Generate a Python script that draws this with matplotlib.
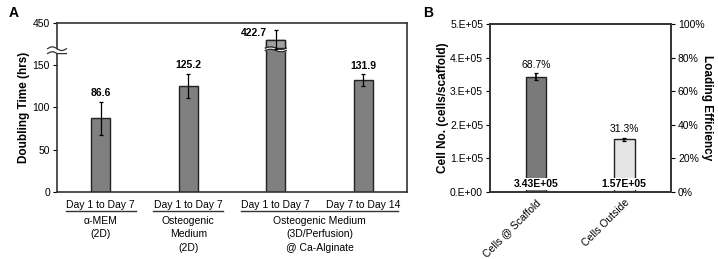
import numpy as np
import matplotlib
matplotlib.use('Agg')
import matplotlib.pyplot as plt
from matplotlib.transforms import blended_transform_factory
from matplotlib.ticker import FuncFormatter

plt.rcParams['font.family'] = ['Liberation Sans', 'DejaVu Sans']
plt.rcParams['font.size'] = 7.5

# panel A data
periods = ['Day 1 to Day 7', 'Day 1 to Day 7', 'Day 1 to Day 7', 'Day 7 to Day 14']
doubling = [86.6, 125.2, 422.7, 131.9]
doubling_err = [19.5, 14.0, 15.5, 6.5]
groups = ['α-MEM\n(2D)', 'Osteogenic\nMedium\n(2D)',
          'Osteogenic Medium\n(3D/Perfusion)\n@ Ca-Alginate']
group_members = [[0], [1], [2, 3]]
yticks_a = [0, 50, 100, 150, 450]

# panel B data
cell_cats = ['Cells @ Scaffold', 'Cells Outside']
cell_no = [3.43e5, 1.57e5]
cell_err = [1.0e4, 5.0e3]
efficiency = [68.7, 31.3]

# broken y axis for panel A (150 -> 400 squeezed)
knots_v = [-1000, 0, 160, 400, 450, 2000]
knots_e = [-1000, 0, 160, 163, 199, 199 + 1550 * 0.72]
def fwd(v):
    return np.interp(v, knots_v, knots_e)
def inv(e):
    return np.interp(e, knots_e, knots_v)

edge = '#222222'
spine_c = '#333333'

fig = plt.figure(figsize=(7.18, 2.59), dpi=100)
ax = fig.add_axes([0.0794, 0.2587, 0.4875, 0.6525])
axb = fig.add_axes([0.6825, 0.2587, 0.2521, 0.6486])

# ---------------- panel A ----------------
ax.set_yscale('function', functions=(fwd, inv))
x = np.arange(len(doubling))
w = 0.22
ax.bar(x, doubling, width=w, color='#808080', edgecolor=edge, linewidth=1.0, zorder=2)
ax.errorbar(x, doubling, yerr=doubling_err, fmt='none', ecolor='black',
            elinewidth=0.9, capsize=1.2, capthick=0.9, zorder=3)
ax.set_ylim(0, 450)
ax.set_xlim(-0.5, 3.5)
ax.set_yticks(yticks_a)
ax.set_yticklabels([str(t) for t in yticks_a])
ax.set_xticks(x)
ax.set_xticklabels(periods)
ax.tick_params(axis='x', length=0, pad=6, labelsize=7.5)
ax.tick_params(axis='y', direction='out', length=3, width=0.8, pad=2, labelsize=7.5)
for s in ax.spines.values():
    s.set_color(spine_c)
    s.set_linewidth(1.2)
ax.set_ylabel('Doubling Time (hrs)', fontsize=8.5, fontweight='bold', labelpad=2)

for i in range(len(doubling)):
    top = doubling[i] + doubling_err[i]
    if doubling[i] > 400:
        ax.annotate(f'{doubling[i]:.1f}', (x[i], top), xytext=(-6, -2),
                    textcoords='offset points', ha='right', va='center',
                    fontsize=7.5, fontweight='bold')
    else:
        ax.annotate(f'{doubling[i]:.1f}', (x[i], top), xytext=(0, 2.5),
                    textcoords='offset points', ha='center', va='bottom',
                    fontsize=7.5, fontweight='bold')

# broken bar: lighter top part and wavy cut
for i in range(len(doubling)):
    if doubling[i] > 400:
        brk = 409
        ax.bar(x[i], doubling[i] - brk, bottom=brk, width=w, color='#a0a0a0',
               edgecolor=edge, linewidth=1.0, zorder=2)
        xx = np.linspace(x[i] - w / 2 - 0.01, x[i] + w / 2 + 0.01, 60)
        wave = 2.0 * np.sin((xx - xx[0]) / (xx[-1] - xx[0]) * 2 * np.pi)
        lo = brk - 4 + wave
        hi = brk + wave
        ax.fill_between(xx, lo, hi, color='white', zorder=2.6, linewidth=0)
        ax.plot(xx, lo, color=edge, lw=0.9, zorder=2.7)
        ax.plot(xx, hi, color=edge, lw=0.9, zorder=2.7)

# axis break marks
tr = blended_transform_factory(ax.transAxes, ax.transData)
bx = np.linspace(-0.027, 0.027, 40)
bw = 3.0 * np.sin((bx - bx[0]) / (bx[-1] - bx[0]) * 2 * np.pi)
ax.fill_between(bx, 401 + bw, 407 + bw, transform=tr, color='white',
                zorder=5, clip_on=False, linewidth=0)
ax.plot(bx, 400 + bw, transform=tr, color=spine_c, lw=0.9, zorder=6, clip_on=False)
ax.plot(bx, 408 + bw, transform=tr, color=spine_c, lw=0.9, zorder=6, clip_on=False)

# group labels with underlines
tg = blended_transform_factory(ax.transData, ax.transAxes)
for g, members in zip(groups, group_members):
    x0 = x[members[0]] - 0.4
    x1 = x[members[-1]] + 0.4
    ax.plot([x0, x1], [-0.112, -0.112], transform=tg, color=spine_c,
            lw=1.0, clip_on=False)
    ax.text((x0 + x1) / 2, -0.14, g, transform=tg, ha='center', va='top',
            fontsize=7.5, linespacing=1.45)

fig.text(0.012, 0.975, 'A', fontsize=10, fontweight='bold', va='top')

# ---------------- panel B ----------------
xb = np.arange(len(cell_no))
wb = 0.235
axb.bar(xb, cell_no, width=wb, color=['#7a7a7a', '#e4e4e4'], edgecolor=edge,
        linewidth=1.0, zorder=2)
axb.errorbar(xb, cell_no, yerr=cell_err, fmt='none', ecolor='black',
             elinewidth=1.2, capsize=1.2, capthick=0.9, zorder=3)
axb.set_xlim(-0.52, 1.53)
axb.set_ylim(0, 5e5)
axb.set_yticks(np.arange(0, 5.01e5, 1e5))

def sci_fmt(v, pos):
    if v == 0:
        return '0.E+00'
    e = int(np.floor(np.log10(v)))
    return f'{v / 10**e:.0f}.E+{e:02d}'
axb.yaxis.set_major_formatter(FuncFormatter(sci_fmt))
axb.set_xticks(xb)
axb.set_xticklabels(cell_cats, rotation=45, ha='right', rotation_mode='anchor')
axb.tick_params(axis='x', length=0, pad=4, labelsize=7.5)
axb.tick_params(axis='y', direction='out', length=3, width=0.8, pad=2, labelsize=7.5)
for s in axb.spines.values():
    s.set_color(spine_c)
    s.set_linewidth(1.2)
axb.set_ylabel('Cell No. (cells/scaffold)', fontsize=8.5, fontweight='bold', labelpad=1)

for i in range(len(cell_no)):
    axb.annotate(f'{efficiency[i]:.1f}%', (xb[i], cell_no[i] + cell_err[i]),
                 xytext=(0, 2.5), textcoords='offset points', ha='center',
                 va='bottom', fontsize=7.5)
    axb.annotate(f'{cell_no[i]:.2E}', (xb[i], 0),
                 xytext=(0, 2), textcoords='offset points', ha='center',
                 va='bottom', fontsize=7.5, fontweight='bold', zorder=4,
                 bbox=dict(boxstyle='square,pad=0.1', fc='white', ec='none'))

axr = axb.twinx()
axr.set_ylim(0, 100)
axr.set_yticks(np.arange(0, 101, 20))
axr.yaxis.set_major_formatter(FuncFormatter(lambda v, p: f'{v:.0f}%'))
axr.tick_params(axis='y', direction='out', length=3, width=0.8, pad=2, labelsize=7.5)
for s in axr.spines.values():
    s.set_color(spine_c)
    s.set_linewidth(1.2)
axr.set_ylabel('Loading Efficiency', fontsize=8.5, fontweight='bold',
               rotation=270, labelpad=6)

fig.text(0.589, 0.975, 'B', fontsize=10, fontweight='bold', va='top')

fig.savefig('out.png', dpi=100)
